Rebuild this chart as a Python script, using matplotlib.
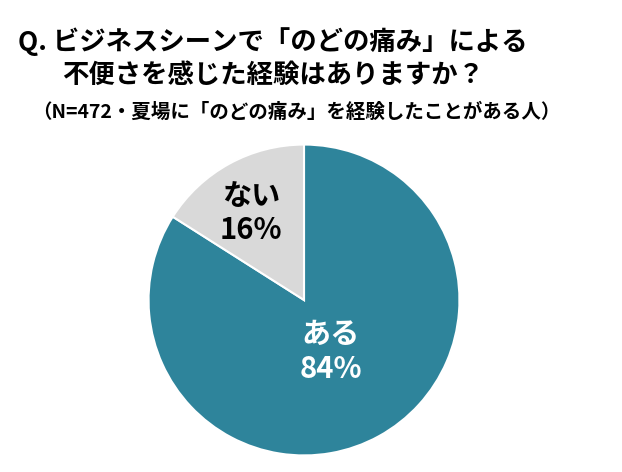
import matplotlib
matplotlib.use("Agg")
import matplotlib.pyplot as plt

labels = ["ある", "ない"]
values = [84, 16]
colors = ["#2E849B", "#D9D9D9"]
text_colors = ["white", "black"]

plt.rcParams['font.family'] = ['Noto Sans CJK JP', 'DejaVu Sans']
fig = plt.figure(figsize=(6.22, 4.72), dpi=100)
fig.text(18/622, 1-42/472, "Q. ビジネスシーンで「のどの痛み」による", fontsize=19, fontweight='bold', va='center')
fig.text(62/622, 1-75/472, "不便さを感じた経験はありますか？", fontsize=19, fontweight='bold', va='center')
fig.text(32/622, 1-112/472, "（N=472・夏場に「のどの痛み」を経験したことがある人）", fontsize=14, fontweight='bold', va='center')

ax = fig.add_axes([147/622, 15/472, 314/622, 314/472])
wedges, _ = ax.pie(values, colors=colors, startangle=90, counterclock=False,
                   wedgeprops=dict(edgecolor='white', linewidth=1.5))
ax.set_xlim(-1.01, 1.01)
ax.set_ylim(-1.01, 1.01)
ax.set_aspect('equal')
pos = [(0.17, -0.33), (-0.34, 0.56)]
for (x, y), l, v, c in zip(pos, labels, values, text_colors):
    ax.text(x, y, f"{l}\n{v}%", ha='center', va='center', fontsize=21, fontweight='bold',
            color=c, linespacing=1.2)
fig.savefig("out.png", dpi=100)
